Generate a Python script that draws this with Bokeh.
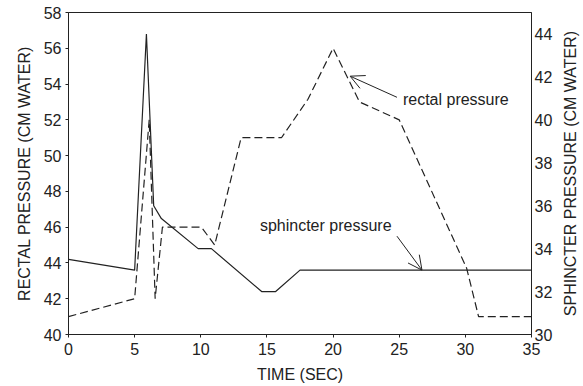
import math
from bokeh.plotting import figure
from bokeh.layouts import row
from bokeh.models import LinearAxis, Range1d, Arrow, OpenHead, FixedTicker
from bokeh.core.properties import value
from bokeh.embed import file_html
from bokeh.resources import INLINE

# ---- data ----
rectal_t = [0, 5, 6.1, 6.55, 7.1, 10.05, 11.05, 13.05, 16.1, 18.1, 20.0, 22.0, 25.0, 30.1, 31.0, 35]
rectal_p = [41, 42, 52, 42, 46, 46, 45, 51, 51, 53.15, 56, 53, 52, 43.7, 41, 41]

sphincter_t = [0, 5, 5.89, 6.44, 7.02, 9.8, 10.8, 14.6, 15.66, 17.5, 35]
sphincter_p = [33.5, 33.0, 44.0, 36.0, 35.4, 34.0, 34.0, 32.0, 32.0, 33.0, 33.0]

x_ticks = [0, 5, 10, 15, 20, 25, 30, 35]
left_ticks = [40, 42, 44, 46, 48, 50, 52, 54, 56, 58]
right_ticks = [30, 32, 34, 36, 38, 40, 42, 44]

FONT = "Liberation Sans"
INK = "#222222"

p = figure(width=560, height=386, output_backend="svg", toolbar_location=None,
           x_range=Range1d(0, 35), y_range=Range1d(40, 58),
           min_border_left=68, min_border_right=29, min_border_top=12, min_border_bottom=52)
p.extra_y_ranges = {"right": Range1d(30, 45)}
p.xgrid.visible = False
p.ygrid.visible = False
p.outline_line_color = INK
p.outline_line_width = 1
p.background_fill_color = "white"
p.border_fill_color = "white"

def style_axis(ax, tick_out=3):
    ax.axis_line_color = INK
    ax.major_tick_line_color = INK
    ax.major_tick_out = tick_out
    ax.major_tick_in = 0
    ax.minor_tick_line_color = None
    ax.major_label_text_font = FONT
    ax.major_label_text_font_size = "16px"
    ax.major_label_text_color = INK
    ax.axis_label_text_font = FONT
    ax.axis_label_text_font_size = "16px"
    ax.axis_label_text_font_style = "normal"
    ax.axis_label_text_color = INK

xa = p.xaxis[0]
style_axis(xa)
xa.ticker = FixedTicker(ticks=x_ticks)
xa.axis_label = "TIME (SEC)"
xa.major_label_standoff = 5
xa.axis_label_standoff = 8

ya = p.yaxis[0]
style_axis(ya)
ya.ticker = FixedTicker(ticks=left_ticks)
ya.axis_label = "RECTAL PRESSURE (CM WATER)"
ya.major_label_standoff = 4
ya.axis_label_standoff = 8

ra = LinearAxis(y_range_name="right")
style_axis(ra, tick_out=0)
ra.ticker = FixedTicker(ticks=right_ticks)
ra.major_label_standoff = 3
p.add_layout(ra, "right")

p.line(rectal_t, rectal_p, line_color=INK, line_width=1.2, line_dash="8 4")
p.line(sphincter_t, sphincter_p, line_color=INK, line_width=1.2, y_range_name="right")

# annotations
p.text(x=[25.28], y=[53.15], text=["rectal pressure"], text_font=value(FONT),
       text_font_size="16px", text_color=INK, text_baseline="middle", text_align="left")
p.text(x=[14.47], y=[35.08], text=["sphincter pressure"], text_font=value(FONT),
       text_font_size="16px", text_color=INK, text_baseline="middle", text_align="left",
       y_range_name="right")

p.add_layout(Arrow(end=OpenHead(size=14, line_color=INK, line_width=1),
                   x_start=24.83, y_start=53.26, x_end=21.29, y_end=54.44,
                   line_color=INK, line_width=1))
p.add_layout(Arrow(end=OpenHead(size=14, line_color=INK, line_width=1),
                   x_start=24.83, y_start=34.58, x_end=26.72, y_end=33.0,
                   line_color=INK, line_width=1, y_range_name="right"))

# narrow strip on the right carrying the right-hand axis title (reads bottom-to-top)
p2 = figure(width=23, height=386, output_backend="svg", toolbar_location=None,
            x_range=Range1d(0, 23), y_range=Range1d(40, 58),
            min_border_left=0, min_border_right=0, min_border_top=12, min_border_bottom=52)
p2.axis.visible = False
p2.grid.visible = False
p2.outline_line_color = None
p2.background_fill_color = "white"
p2.border_fill_color = "white"
p2.text(x=[9.5], y=[49], text=["SPHINCTER PRESSURE (CM WATER)"], angle=math.pi / 2,
        text_font=value(FONT), text_font_size="16px", text_color=INK,
        text_align="center", text_baseline="middle")

layout = row(p, p2, spacing=0)
open("out.html", "w").write(file_html(layout, INLINE))
